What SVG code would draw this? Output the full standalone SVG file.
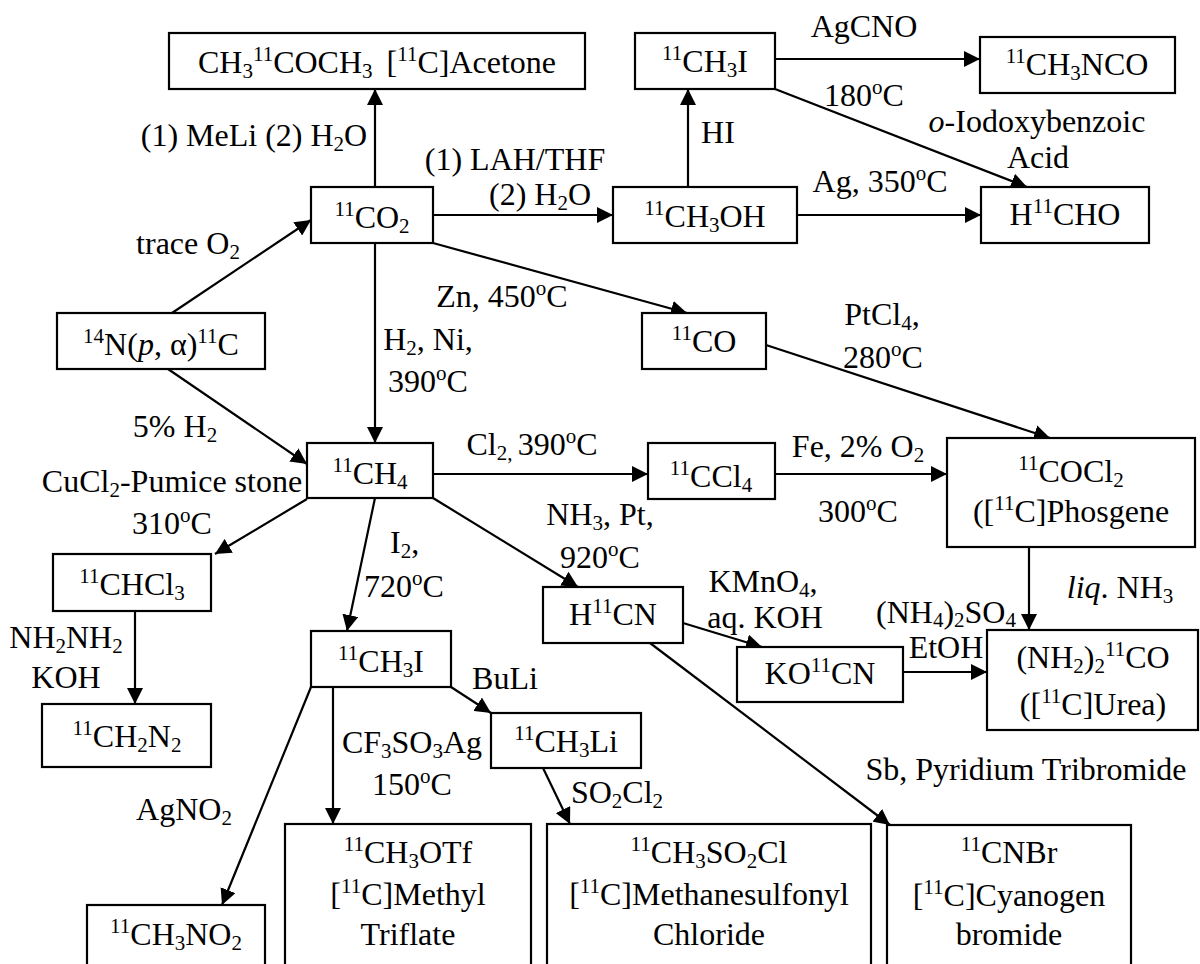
<svg xmlns="http://www.w3.org/2000/svg" width="1200" height="964" viewBox="0 0 1200 964">
<defs>
<style>
text{font-family:"Liberation Serif","Times New Roman",serif;font-size:32px;fill:#000;text-anchor:middle}
.s{font-size:21px}
.i{font-style:italic}
rect{fill:#fff;stroke:#000;stroke-width:2.2}
#connectors path{fill:none;stroke:#000;stroke-width:2.2}
</style>
<marker id="ah" markerUnits="userSpaceOnUse" markerWidth="16" markerHeight="16" refX="15" refY="7.5" orient="auto" viewBox="0 0 15 15">
<path d="M0,0 L15,7.5 L0,15 z" fill="#000"/>
</marker>
</defs>
<rect x="0" y="0" width="1200" height="964" style="stroke:none;fill:#fff"/>

<g id="connectors">
<path d="M375,187 V89" marker-end="url(#ah)"/>
<path d="M172,313 L311,220" marker-end="url(#ah)"/>
<path d="M168,369 L307,464" marker-end="url(#ah)"/>
<path d="M375,243 V443" marker-end="url(#ah)"/>
<path d="M433,215 H613" marker-end="url(#ah)"/>
<path d="M433,243 L687,313" marker-end="url(#ah)"/>
<path d="M688,187 V89" marker-end="url(#ah)"/>
<path d="M775,59 H980" marker-end="url(#ah)"/>
<path d="M775,89 L1027,187" marker-end="url(#ah)"/>
<path d="M797,215 H981" marker-end="url(#ah)"/>
<path d="M766,345 L1050,438" marker-end="url(#ah)"/>
<path d="M433,474 H648" marker-end="url(#ah)"/>
<path d="M775,474 H947" marker-end="url(#ah)"/>
<path d="M307,499 L215,554" marker-end="url(#ah)"/>
<path d="M375,498 L347,631" marker-end="url(#ah)"/>
<path d="M433,498 L578,587" marker-end="url(#ah)"/>
<path d="M135,611 V704" marker-end="url(#ah)"/>
<path d="M1029,547 V630" marker-end="url(#ah)"/>
<path d="M683,623 L762,647" marker-end="url(#ah)"/>
<path d="M903,672 H987" marker-end="url(#ah)"/>
<path d="M650,643 L890,825" marker-end="url(#ah)"/>
<path d="M451,687 L491,713" marker-end="url(#ah)"/>
<path d="M543,768 L570,824" marker-end="url(#ah)"/>
<path d="M333,687 V824" marker-end="url(#ah)"/>
<path d="M311,687 L222,905" marker-end="url(#ah)"/>
</g>

<g id="labels">
<text x="254" y="146">(1) MeLi (2) H<tspan class="s" dy="5">2</tspan><tspan dy="-5">O</tspan></text>
<text x="188" y="254">trace O<tspan class="s" dy="5">2</tspan></text>
<text x="515" y="170">(1) LAH/THF</text>
<text x="540" y="205">(2) H<tspan class="s" dy="5">2</tspan><tspan dy="-5">O</tspan></text>
<text x="718" y="143">HI</text>
<text x="864" y="37">AgCNO</text>
<text x="864" y="106">180<tspan class="s" dy="-12">o</tspan><tspan dy="12">C</tspan></text>
<text x="1037" y="132"><tspan class="i">o</tspan>-Iodoxybenzoic</text>
<text x="1038" y="168">Acid</text>
<text x="880" y="192">Ag, 350<tspan class="s" dy="-12">o</tspan><tspan dy="12">C</tspan></text>
<text x="502" y="307">Zn, 450<tspan class="s" dy="-12">o</tspan><tspan dy="12">C</tspan></text>
<text x="428" y="350">H<tspan class="s" dy="5">2</tspan><tspan dy="-5">, Ni,</tspan></text>
<text x="428" y="392">390<tspan class="s" dy="-12">o</tspan><tspan dy="12">C</tspan></text>
<text x="175" y="437">5% H<tspan class="s" dy="5">2</tspan></text>
<text x="882" y="325">PtCl<tspan class="s" dy="5">4</tspan><tspan dy="-5">,</tspan></text>
<text x="883" y="368">280<tspan class="s" dy="-12">o</tspan><tspan dy="12">C</tspan></text>
<text x="532" y="455">Cl<tspan class="s" dy="5">2, </tspan><tspan dy="-5">390</tspan><tspan class="s" dy="-12">o</tspan><tspan dy="12">C</tspan></text>
<text x="858" y="457">Fe, 2% O<tspan class="s" dy="5">2</tspan></text>
<text x="858" y="522">300<tspan class="s" dy="-12">o</tspan><tspan dy="12">C</tspan></text>
<text x="172" y="492">CuCl<tspan class="s" dy="5">2</tspan><tspan dy="-5">-Pumice stone</tspan></text>
<text x="172" y="534">310<tspan class="s" dy="-12">o</tspan><tspan dy="12">C</tspan></text>
<text x="600" y="525">NH<tspan class="s" dy="5">3</tspan><tspan dy="-5">, Pt,</tspan></text>
<text x="600" y="568">920<tspan class="s" dy="-12">o</tspan><tspan dy="12">C</tspan></text>
<text x="390" y="553" style="text-anchor:start">I<tspan class="s" dy="5">2</tspan><tspan dy="-5">,</tspan></text>
<text x="404" y="597">720<tspan class="s" dy="-12">o</tspan><tspan dy="12">C</tspan></text>
<text x="763" y="592">KMnO<tspan class="s" dy="5">4</tspan><tspan dy="-5">,</tspan></text>
<text x="765" y="628">aq. KOH</text>
<text x="1120" y="598"><tspan class="i">liq</tspan>. NH<tspan class="s" dy="5">3</tspan></text>
<text x="946" y="623">(NH<tspan class="s" dy="4">4</tspan><tspan dy="-4">)</tspan><tspan class="s" dy="4">2</tspan><tspan dy="-4">SO</tspan><tspan class="s" dy="4">4</tspan></text>
<text x="946" y="658">EtOH</text>
<text x="66" y="648">NH<tspan class="s" dy="5">2</tspan><tspan dy="-5">NH</tspan><tspan class="s" dy="5">2</tspan></text>
<text x="66" y="688">KOH</text>
<text x="505" y="689">BuLi</text>
<text x="412" y="753">CF<tspan class="s" dy="5">3</tspan><tspan dy="-5">SO</tspan><tspan class="s" dy="5">3</tspan><tspan dy="-5">Ag</tspan></text>
<text x="412" y="795">150<tspan class="s" dy="-12">o</tspan><tspan dy="12">C</tspan></text>
<text x="617" y="803">SO<tspan class="s" dy="5">2</tspan><tspan dy="-5">Cl</tspan><tspan class="s" dy="5">2</tspan></text>
<text x="184" y="820">AgNO<tspan class="s" dy="5">2</tspan></text>
<text x="1026" y="780">Sb, Pyridium Tribromide</text>
</g>

<g id="n-acetone"><rect x="169" y="33" width="416" height="56"/>
<text x="377" y="73">CH<tspan class="s" dy="5">3</tspan><tspan class="s" dy="-17">11</tspan><tspan dy="12">COCH</tspan><tspan class="s" dy="5">3</tspan><tspan dx="14" dy="-5">[</tspan><tspan class="s" dy="-12">11</tspan><tspan dy="12">C]Acetone</tspan></text></g>
<g id="n-co2"><rect x="311" y="187" width="122" height="56"/>
<text x="372" y="228"><tspan class="s" dy="-12">11</tspan><tspan dy="12">CO</tspan><tspan class="s" dy="5">2</tspan></text></g>
<g id="n-n14"><rect x="57" y="313" width="208" height="56"/>
<text x="161" y="355"><tspan class="s" dy="-12">14</tspan><tspan dy="12">N(</tspan><tspan class="i">p</tspan>, α)<tspan class="s" dy="-12">11</tspan><tspan dy="12">C</tspan></text></g>
<g id="n-ch4"><rect x="307" y="443" width="126" height="55"/>
<text x="370" y="484"><tspan class="s" dy="-12">11</tspan><tspan dy="12">CH</tspan><tspan class="s" dy="5">4</tspan></text></g>
<g id="n-chcl3"><rect x="53" y="554" width="158" height="57"/>
<text x="132" y="595"><tspan class="s" dy="-12">11</tspan><tspan dy="12">CHCl</tspan><tspan class="s" dy="5">3</tspan></text></g>
<g id="n-ch2n2"><rect x="42" y="704" width="169" height="63"/>
<text x="127" y="747"><tspan class="s" dy="-12">11</tspan><tspan dy="12">CH</tspan><tspan class="s" dy="5">2</tspan><tspan dy="-5">N</tspan><tspan class="s" dy="5">2</tspan></text></g>
<g id="n-ch3i-b"><rect x="311" y="631" width="140" height="56"/>
<text x="381" y="672"><tspan class="s" dy="-12">11</tspan><tspan dy="12">CH</tspan><tspan class="s" dy="5">3</tspan><tspan dy="-5">I</tspan></text></g>
<g id="n-ch3li"><rect x="491" y="713" width="150" height="55"/>
<text x="566" y="752"><tspan class="s" dy="-12">11</tspan><tspan dy="12">CH</tspan><tspan class="s" dy="5">3</tspan><tspan dy="-5">Li</tspan></text></g>
<g id="n-ch3otf"><rect x="285" y="824" width="246" height="160"/>
<text x="408" y="863"><tspan class="s" dy="-12">11</tspan><tspan dy="12">CH</tspan><tspan class="s" dy="5">3</tspan><tspan dy="-5">OTf</tspan></text>
<text x="408" y="905">[<tspan class="s" dy="-12">11</tspan><tspan dy="12">C]Methyl</tspan></text>
<text x="408" y="945">Triflate</text></g>
<g id="n-ch3so2cl"><rect x="547" y="824" width="324" height="160"/>
<text x="709" y="863"><tspan class="s" dy="-12">11</tspan><tspan dy="12">CH</tspan><tspan class="s" dy="5">3</tspan><tspan dy="-5">SO</tspan><tspan class="s" dy="5">2</tspan><tspan dy="-5">Cl</tspan></text>
<text x="709" y="905">[<tspan class="s" dy="-12">11</tspan><tspan dy="12">C]Methanesulfonyl</tspan></text>
<text x="709" y="945">Chloride</text></g>
<g id="n-cnbr"><rect x="887" y="825" width="244" height="160"/>
<text x="1009" y="863"><tspan class="s" dy="-12">11</tspan><tspan dy="12">CNBr</tspan></text>
<text x="1009" y="906">[<tspan class="s" dy="-12">11</tspan><tspan dy="12">C]Cyanogen</tspan></text>
<text x="1009" y="945">bromide</text></g>
<g id="n-ch3no2"><rect x="87" y="905" width="178" height="80"/>
<text x="176" y="945"><tspan class="s" dy="-12">11</tspan><tspan dy="12">CH</tspan><tspan class="s" dy="5">3</tspan><tspan dy="-5">NO</tspan><tspan class="s" dy="5">2</tspan></text></g>
<g id="n-hcn"><rect x="543" y="587" width="140" height="56"/>
<text x="613" y="625">H<tspan class="s" dy="-12">11</tspan><tspan dy="12">CN</tspan></text></g>
<g id="n-kocn"><rect x="737" y="647" width="166" height="55"/>
<text x="820" y="684">KO<tspan class="s" dy="-12">11</tspan><tspan dy="12">CN</tspan></text></g>
<g id="n-urea"><rect x="987" y="630" width="211" height="100"/>
<text x="1093" y="668">(NH<tspan class="s" dy="5">2</tspan><tspan dy="-5">)</tspan><tspan class="s" dy="5">2</tspan><tspan class="s" dy="-17">11</tspan><tspan dy="12">CO</tspan></text>
<text x="1093" y="715">([<tspan class="s" dy="-12">11</tspan><tspan dy="12">C]Urea)</tspan></text></g>
<g id="n-cocl2"><rect x="947" y="438" width="248" height="109"/>
<text x="1071" y="482"><tspan class="s" dy="-12">11</tspan><tspan dy="12">COCl</tspan><tspan class="s" dy="5">2</tspan></text>
<text x="1071" y="522">([<tspan class="s" dy="-12">11</tspan><tspan dy="12">C]Phosgene</tspan></text></g>
<g id="n-ccl4"><rect x="648" y="443" width="127" height="56"/>
<text x="711" y="487"><tspan class="s" dy="-12">11</tspan><tspan dy="12">CCl</tspan><tspan class="s" dy="5">4</tspan></text></g>
<g id="n-co"><rect x="642" y="313" width="124" height="56"/>
<text x="704" y="352"><tspan class="s" dy="-12">11</tspan><tspan dy="12">CO</tspan></text></g>
<g id="n-ch3oh"><rect x="613" y="187" width="184" height="56"/>
<text x="705" y="227"><tspan class="s" dy="-12">11</tspan><tspan dy="12">CH</tspan><tspan class="s" dy="5">3</tspan><tspan dy="-5">OH</tspan></text></g>
<g id="n-ch3i-t"><rect x="635" y="33" width="140" height="56"/>
<text x="705" y="72"><tspan class="s" dy="-12">11</tspan><tspan dy="12">CH</tspan><tspan class="s" dy="5">3</tspan><tspan dy="-5">I</tspan></text></g>
<g id="n-ch3nco"><rect x="980" y="37" width="195" height="56"/>
<text x="1077" y="75"><tspan class="s" dy="-12">11</tspan><tspan dy="12">CH</tspan><tspan class="s" dy="5">3</tspan><tspan dy="-5">NCO</tspan></text></g>
<g id="n-hcho"><rect x="981" y="187" width="168" height="56"/>
<text x="1065" y="225">H<tspan class="s" dy="-12">11</tspan><tspan dy="12">CHO</tspan></text></g>
</svg>
